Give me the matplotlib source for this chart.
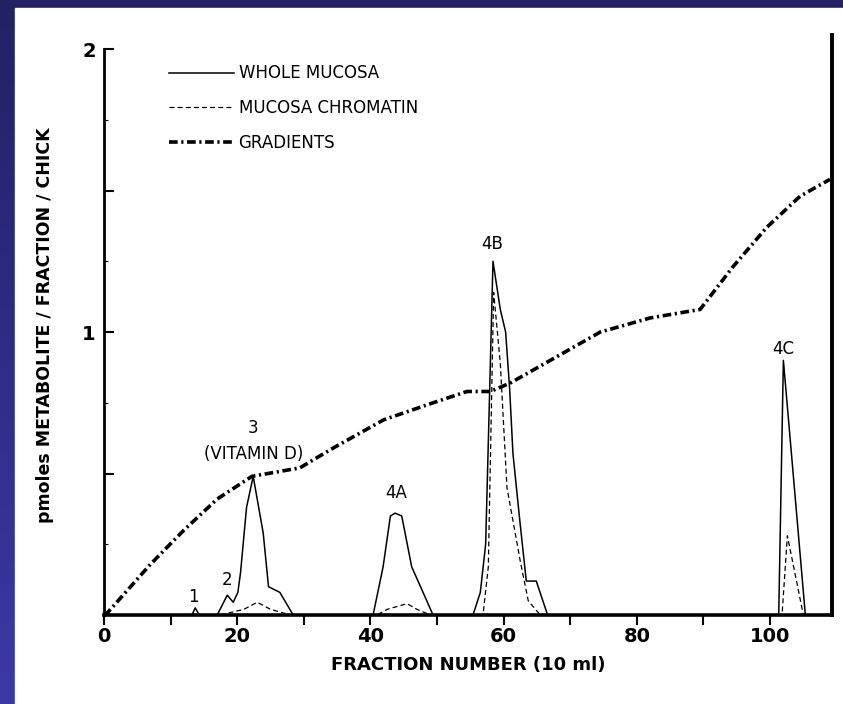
import numpy as np
import matplotlib
matplotlib.use('Agg')
import matplotlib.pyplot as plt
from matplotlib import font_manager
from matplotlib.patches import Rectangle

# fraction number vs pmoles metabolite
grad_x = [0, 0.6, 7, 12, 17, 22.2, 29.4, 34.4, 42, 49.4, 54.5, 58, 61, 74.5, 82, 89.5, 94.4, 99.5, 104.5, 109]
grad_y = [0, 0.01, 0.18, 0.30, 0.41, 0.49, 0.52, 0.59, 0.69, 0.75, 0.79, 0.79, 0.82, 1.00, 1.05, 1.08, 1.23, 1.37, 1.48, 1.54]

whole_x = [0, 13.2, 13.7, 14.3, 17.0, 18.5, 19.4, 20.1, 20.5, 21.4, 22.4, 23.9, 24.7, 26.4, 28.4,
           40.4, 41.9, 43.0, 43.7, 44.7, 46.2, 47.9, 49.4,
           55.4, 56.5, 57.3, 57.8, 58.4, 59.5, 60.3, 60.9, 61.4, 62.4, 63.4, 64.9, 66.6,
           101.3, 102.0, 105.3, 109]
whole_y = [0, 0, 0.025, 0, 0, 0.07, 0.045, 0.08, 0.15, 0.38, 0.49, 0.29, 0.10, 0.08, 0,
           0, 0.17, 0.35, 0.36, 0.35, 0.17, 0.08, 0,
           0, 0.08, 0.25, 0.7, 1.25, 1.08, 1.0, 0.8, 0.57, 0.34, 0.12, 0.12, 0,
           0, 0.9, 0, 0]

chrom_x = [17.5, 21, 23, 25, 28, 41, 42.5, 44, 45.5, 47, 49,
           56.9, 57.7, 58.5, 59.5, 60.5, 62.5, 63.7, 65.5, 101.8, 102.6, 105]
chrom_y = [0, 0.02, 0.045, 0.02, 0, 0, 0.02, 0.03, 0.04, 0.02, 0,
           0, 0.17, 1.14, 0.89, 0.45, 0.19, 0.05, 0, 0, 0.28, 0]

peak_labels = ['1', '2', '3', '(VITAMIN D)', '4A', '4B', '4C']
peak_label_x = [13.4, 18.5, 22.4, 22.4, 43.8, 58.3, 102.0]
peak_label_y = [0.065, 0.125, 0.66, 0.57, 0.43, 1.31, 0.94]

xticks_major = [0, 20, 40, 60, 80, 100]
xticks_minor = [10, 30, 50, 70, 90]

# narrow bold font for axis text if available
names = set(f.name for f in font_manager.fontManager.ttflist)
narrow = 'Liberation Sans Narrow' if 'Liberation Sans Narrow' in names else 'DejaVu Sans'

fig = plt.figure(figsize=(8.43, 7.04), dpi=100)

# blue slide background
bg = fig.add_axes([0, 0, 1, 1])
grad = np.linspace(0, 1, 256).reshape(-1, 1)
top = np.array([33, 33, 100]) / 255
bot = np.array([58, 58, 165]) / 255
img = top + (bot - top) * grad[:, :, None]
bg.imshow(img, aspect='auto', extent=[0, 1, 0, 1], origin='upper')
bg.add_patch(Rectangle((15 / 843, 0), 1, 1 - 8 / 704, color='white'))
bg.set_xlim(0, 1)
bg.set_ylim(0, 1)
bg.axis('off')

ax = fig.add_axes([104 / 843, 89 / 704, (832 - 104) / 843, (615 - 35) / 704])
ax.patch.set_alpha(0)

ax.plot(grad_x, grad_y, color='black', lw=2.6, linestyle=(0, (2.4, 1.0, 0.6, 1.0)),
        label='GRADIENTS')
ax.plot(whole_x, whole_y, color='black', lw=1.1, label='WHOLE MUCOSA')
ax.plot(chrom_x, chrom_y, color='black', lw=0.9, linestyle=(0, (4, 2.5)),
        label='MUCOSA CHROMATIN')

for t, x, y in zip(peak_labels, peak_label_x, peak_label_y):
    ax.text(x, y, t, ha='center', va='center', fontsize=12, color='black')

ax.set_xlim(0, 109.3)
ax.set_ylim(0, 2.05)

ax.spines['top'].set_visible(False)
ax.spines['bottom'].set_linewidth(2.6)
ax.spines['left'].set_linewidth(2.0)
ax.spines['right'].set_linewidth(2.8)
ax.spines['left'].set_bounds(0, 2)

ax.set_xticks(xticks_major)
ax.set_xticks(xticks_minor, minor=True)
ax.set_xticklabels([str(v) for v in xticks_major], fontsize=14, fontweight='bold', family=narrow)
ax.tick_params(axis='x', which='both', direction='out', length=7, width=1.5, pad=2)

ax.set_yticks([0.5, 1, 1.5, 2])
ax.set_yticklabels(['', '1', '', '2'], fontsize=14, fontweight='bold', family=narrow)
ax.set_yticks([0.25, 0.75, 1.25, 1.75], minor=True)
ax.tick_params(axis='y', which='major', direction='in', length=7, width=1.5, pad=6)
ax.tick_params(axis='y', which='minor', direction='in', length=3, width=0.8)

ax.set_xlabel('FRACTION NUMBER (10 ml)', fontsize=13, fontweight='bold', family=narrow, labelpad=7)
ax.set_ylabel('pmoles METABOLITE / FRACTION / CHICK', fontsize=12.5, fontweight='bold',
              family=narrow, labelpad=20)

h, l = ax.get_legend_handles_labels()
order = [1, 2, 0]
ax.legend([h[i] for i in order], [l[i] for i in order], loc='upper left',
          bbox_to_anchor=(0.068, 0.975), frameon=False, fontsize=12, handlelength=3.9,
          handletextpad=0.3, labelspacing=1.0)

fig.savefig('out.png', dpi=100)
